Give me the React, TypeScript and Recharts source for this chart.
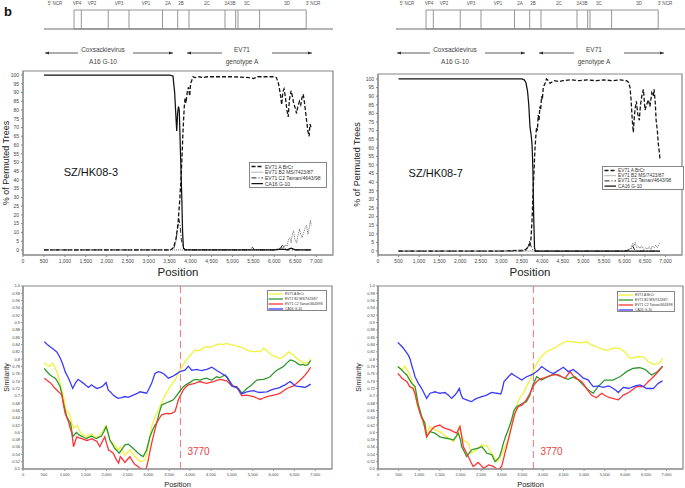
import React from 'react';
import {
  LineChart, Line, XAxis, YAxis, ReferenceArea, ReferenceLine, ReferenceDot,
  Legend, Label, ComposedChart, Scatter,
} from 'recharts';

const FONT = '"Liberation Sans", Arial, Helvetica, sans-serif';

// ---------- tick values ----------
const POS_TICKS = [0, 500, 1000, 1500, 2000, 2500, 3000, 3500, 4000, 4500, 5000, 5500, 6000, 6500, 7000];
const PCT_TICKS = [0, 5, 10, 15, 20, 25, 30, 35, 40, 45, 50, 55, 60, 65, 70, 75, 80, 85, 90, 95, 100];
const SIM_TICKS = [0.5, 0.52, 0.54, 0.56, 0.58, 0.6, 0.62, 0.64, 0.66, 0.68, 0.7, 0.72, 0.74, 0.76, 0.78, 0.8, 0.82, 0.84, 0.86, 0.88, 0.9, 0.92, 0.94, 0.96, 0.98, 1.0];

// ---------- series names ----------
const BOOT_NAMES = ['EV71 A  BrCr', 'EV71 B2 MS/7423/87', 'EV71 C2 Tainan/4643/98', 'CA16 G-10'];
const SIM_NAMES = ['EV71 A BrCr', 'EV71 B2 MS/7423/87', 'EV71 C2 Tainan/4643/98', 'CA16 G-10'];

// ---------- genome map ----------
const GENE_BOUNDS = [743, 950, 1712, 2300, 3250, 3680, 4000, 5020, 5322, 5388, 6000, 7320];
const GENE_LABELS = [
  { x: 207, name: "5' NCR" }, { x: 827, name: 'VP4' }, { x: 1252, name: 'VP2' },
  { x: 2017, name: 'VP3' }, { x: 2782, name: 'VP1' }, { x: 3405, name: '2A' },
  { x: 3773, name: '2B' }, { x: 4510, name: '2C' }, { x: 5161, name: '3A3B' },
  { x: 5643, name: '3C' }, { x: 6776, name: '3D' }, { x: 7513, name: "3' NCR" },
];
const ARROW_LEFT = { from: -79, to: 855, from2: 2414, to2: 3547, mid: 1564, line1: 'Coxsackievirus', line2: 'A16 G-10' };
const ARROW_RIGHT = { from: 3944, to: 4935, from2: 6351, to2: 7484, mid: 5501, line1: 'EV71', line2: 'genotype A' };

// ---------- bootscan, SZ/HK08-3 ----------
const bootL_A: [number, number][] = [[500,0],[1000,0],[1500,0],[2000,0],[2500,0],[3000,0],[3500,0],[3560,0.5],[3600,2],[3650,6],[3700,15],[3740,28],[3770,40],[3790,50],[3820,68],[3850,82],[3870,87],[3890,84],[3920,90],[3950,93],[3980,88],[4000,95],[4030,97],[4060,99],[4100,98.5],[4200,99],[4300,98.5],[4400,99],[4600,99],[4800,99],[5000,99],[5200,98.8],[5400,98.5],[5500,98],[5600,99],[5800,99],[6000,99],[6050,98.5],[6100,95],[6150,88],[6175,83],[6200,90],[6230,92],[6260,88],[6300,80],[6330,76],[6360,86],[6400,91],[6430,88],[6460,84],[6500,81],[6530,78],[6560,82],[6600,85],[6630,83],[6660,87],[6690,89],[6720,84],[6760,76],[6800,68],[6830,65],[6850,72],[6880,70]];
const bootL_B2: [number, number][] = [[500,0],[3500,0],[4000,0],[5500,0],[6000,0],[6100,0.5],[6180,2],[6220,1],[6260,3],[6300,2],[6340,6],[6370,7],[6400,4],[6430,9],[6460,11],[6490,6],[6530,4],[6560,8],[6600,12],[6630,9],[6660,7],[6700,10],[6740,13],[6770,14],[6800,9],[6830,12],[6860,17],[6880,14]];
const bootL_C2: [number, number][] = [[500,0],[3500,0],[3600,1],[3650,5],[3690,12],[3720,18],[3750,14],[3780,6],[3820,2],[3860,0],[5400,0],[5480,1.5],[5520,0],[6000,0],[6150,1],[6200,3],[6250,1],[6300,0],[6880,0]];
const bootL_CA16: [number, number][] = [[500,100],[1000,100],[1500,100],[2000,100],[2500,100],[3000,100],[3500,100],[3580,99.5],[3620,90],[3660,72],[3670,68],[3690,78],[3710,82],[3730,80],[3760,55],[3790,30],[3810,10],[3830,1],[3870,0],[4500,0],[5000,0],[5500,0],[6000,0],[6200,0.5],[6300,0],[6400,1],[6500,0],[6880,0]];

// ---------- bootscan, SZ/HK08-7 ----------
const bootR_A: [number, number][] = [[500,0],[1000,0],[1500,0],[2000,0],[2500,0],[3000,0],[3500,0.5],[3600,1],[3680,3],[3720,6],[3750,18],[3775,34],[3800,48],[3820,59],[3840,66],[3860,72],[3880,70],[3900,79],[3920,76],[3940,84],[3960,82],[3980,90],[4000,88],[4025,95.5],[4060,97],[4100,100],[4150,99],[4190,97.5],[4250,98.5],[4300,99],[4400,98.5],[4500,99],[4700,99.5],[4900,99],[5100,99.5],[5300,99],[5500,99.5],[5700,99],[5900,99.5],[6050,99],[6100,98],[6135,95],[6160,88],[6190,76],[6215,69],[6240,78],[6260,83],[6290,87],[6320,80],[6360,76],[6390,85],[6420,90],[6460,94],[6500,82],[6540,85],[6580,88],[6620,84],[6665,92],[6700,90],[6720,94],[6750,86],[6770,76],[6800,70],[6825,62],[6850,57],[6865,53]];
const bootR_B2: [number, number][] = [[500,0],[3500,0],[4000,0],[6000,0],[6100,0.5],[6160,2],[6200,4.5],[6230,3],[6260,5],[6300,2],[6330,3],[6380,1.5],[6420,3],[6470,1],[6520,2],[6560,1],[6600,2.5],[6640,1],[6680,3],[6720,2],[6760,3.5],[6800,2],[6840,4],[6865,5]];
const bootR_C2: [number, number][] = [[500,0],[3500,0],[3620,0.5],[3660,3],[3690,6],[3720,3],[3760,1],[3800,0],[6000,0],[6150,1],[6200,3],[6240,1],[6300,0],[6865,0]];
const bootR_CA16: [number, number][] = [[500,100],[1000,100],[1500,100],[2000,100],[2500,100],[3000,100],[3500,100],[3560,99.5],[3600,98],[3640,93],[3670,85],[3700,72],[3730,67],[3750,62],[3770,48],[3790,20],[3810,2],[3830,0],[4500,0],[5000,0],[5500,0],[6000,0],[6865,0]];

// ---------- similarity, SZ/HK08-3 ----------
const simL_A: [number, number][] = [[510,0.79],[580,0.783],[650,0.781],[710,0.789],[760,0.778],[810,0.766],[850,0.752],[890,0.734],[930,0.715],[970,0.698],[1030,0.661],[1110,0.652],[1170,0.625],[1210,0.612],[1250,0.616],[1300,0.618],[1350,0.605],[1400,0.596],[1460,0.592],[1520,0.588],[1580,0.593],[1640,0.596],[1700,0.59],[1760,0.584],[1820,0.59],[1880,0.598],[1940,0.61],[1990,0.618],[2040,0.593],[2100,0.575],[2160,0.57],[2220,0.562],[2280,0.552],[2330,0.561],[2390,0.548],[2440,0.538],[2500,0.545],[2560,0.552],[2620,0.543],[2680,0.534],[2740,0.528],[2800,0.52],[2860,0.522],[2920,0.525],[2960,0.54],[3000,0.561],[3040,0.59],[3080,0.616],[3160,0.643],[3220,0.655],[3280,0.67],[3340,0.685],[3400,0.702],[3460,0.712],[3520,0.725],[3580,0.734],[3640,0.743],[3700,0.757],[3760,0.77],[3820,0.782],[3880,0.793],[3940,0.802],[4000,0.811],[4060,0.818],[4120,0.825],[4180,0.823],[4240,0.825],[4320,0.831],[4400,0.834],[4480,0.832],[4560,0.836],[4640,0.84],[4720,0.842],[4800,0.84],[4880,0.843],[4960,0.84],[5040,0.839],[5120,0.836],[5200,0.834],[5280,0.83],[5360,0.825],[5440,0.822],[5520,0.82],[5600,0.822],[5680,0.82],[5760,0.83],[5820,0.825],[5880,0.818],[5940,0.812],[6000,0.809],[6080,0.805],[6160,0.802],[6220,0.806],[6280,0.811],[6360,0.82],[6420,0.816],[6480,0.811],[6540,0.804],[6600,0.798],[6660,0.794],[6720,0.789],[6780,0.791],[6840,0.79],[6890,0.802]];
const simL_B2: [number, number][] = [[510,0.775],[580,0.765],[650,0.757],[710,0.752],[770,0.748],[830,0.738],[890,0.725],[930,0.705],[970,0.68],[1010,0.66],[1050,0.643],[1100,0.632],[1140,0.625],[1190,0.588],[1240,0.595],[1280,0.6],[1340,0.593],[1400,0.59],[1460,0.586],[1520,0.583],[1580,0.587],[1640,0.59],[1700,0.586],[1760,0.583],[1820,0.587],[1880,0.59],[1940,0.603],[1990,0.616],[2040,0.598],[2080,0.579],[2140,0.568],[2200,0.556],[2250,0.55],[2300,0.543],[2360,0.552],[2440,0.566],[2520,0.568],[2580,0.562],[2640,0.556],[2700,0.55],[2760,0.543],[2820,0.538],[2880,0.534],[2960,0.552],[3040,0.588],[3100,0.605],[3160,0.62],[3200,0.625],[3260,0.652],[3320,0.675],[3380,0.678],[3440,0.681],[3520,0.685],[3600,0.689],[3660,0.698],[3720,0.707],[3780,0.716],[3840,0.725],[3900,0.73],[3960,0.734],[4020,0.738],[4080,0.743],[4160,0.745],[4240,0.743],[4320,0.746],[4400,0.748],[4460,0.745],[4520,0.743],[4580,0.748],[4640,0.752],[4700,0.75],[4760,0.752],[4840,0.757],[4900,0.748],[4960,0.739],[5040,0.725],[5100,0.722],[5160,0.72],[5240,0.707],[5300,0.713],[5360,0.72],[5420,0.725],[5480,0.73],[5540,0.737],[5600,0.743],[5680,0.744],[5760,0.745],[5840,0.748],[5920,0.752],[6000,0.762],[6080,0.77],[6160,0.775],[6240,0.78],[6320,0.79],[6400,0.798],[6460,0.796],[6520,0.793],[6580,0.788],[6640,0.784],[6700,0.786],[6760,0.783],[6820,0.785],[6890,0.796]];
const simL_C2: [number, number][] = [[510,0.748],[580,0.742],[650,0.736],[700,0.73],[730,0.725],[790,0.718],[850,0.711],[900,0.706],[930,0.702],[970,0.675],[1010,0.652],[1050,0.64],[1090,0.629],[1130,0.612],[1170,0.598],[1210,0.561],[1250,0.575],[1290,0.588],[1350,0.585],[1410,0.583],[1470,0.58],[1530,0.578],[1590,0.58],[1650,0.583],[1710,0.579],[1770,0.575],[1840,0.561],[1900,0.575],[1960,0.588],[2000,0.57],[2050,0.552],[2110,0.548],[2160,0.543],[2240,0.525],[2290,0.516],[2330,0.534],[2390,0.526],[2440,0.518],[2500,0.526],[2560,0.534],[2620,0.522],[2680,0.512],[2740,0.508],[2800,0.502],[2860,0.5],[2920,0.496],[2960,0.505],[3000,0.525],[3040,0.548],[3080,0.57],[3140,0.598],[3200,0.625],[3260,0.638],[3320,0.648],[3380,0.65],[3440,0.652],[3500,0.651],[3560,0.652],[3640,0.657],[3680,0.672],[3720,0.689],[3780,0.703],[3840,0.716],[3900,0.724],[3960,0.73],[4040,0.732],[4120,0.734],[4180,0.737],[4240,0.739],[4320,0.736],[4400,0.734],[4480,0.737],[4560,0.739],[4640,0.742],[4720,0.745],[4800,0.743],[4880,0.741],[4940,0.734],[5000,0.727],[5060,0.726],[5120,0.725],[5180,0.712],[5240,0.7],[5300,0.701],[5360,0.702],[5440,0.7],[5520,0.698],[5600,0.694],[5680,0.69],[5760,0.694],[5840,0.698],[5920,0.7],[6000,0.702],[6080,0.704],[6160,0.707],[6240,0.714],[6320,0.72],[6400,0.724],[6480,0.727],[6560,0.735],[6640,0.743],[6700,0.75],[6760,0.757],[6820,0.766],[6890,0.778]];
const simL_CA16: [number, number][] = [[510,0.848],[580,0.84],[650,0.834],[730,0.827],[810,0.82],[870,0.808],[930,0.793],[970,0.78],[1010,0.766],[1050,0.757],[1090,0.748],[1140,0.734],[1190,0.72],[1250,0.734],[1320,0.745],[1380,0.74],[1450,0.734],[1510,0.728],[1570,0.723],[1640,0.73],[1700,0.725],[1770,0.72],[1830,0.722],[1890,0.725],[1940,0.73],[1990,0.736],[2040,0.716],[2100,0.71],[2160,0.702],[2220,0.697],[2280,0.693],[2360,0.695],[2440,0.698],[2520,0.696],[2600,0.7],[2680,0.704],[2760,0.708],[2800,0.711],[2880,0.709],[2960,0.707],[3020,0.72],[3080,0.734],[3160,0.761],[3240,0.766],[3300,0.764],[3360,0.761],[3420,0.755],[3480,0.748],[3540,0.751],[3600,0.754],[3680,0.76],[3760,0.766],[3820,0.768],[3880,0.77],[3960,0.781],[4040,0.77],[4100,0.771],[4160,0.772],[4220,0.77],[4280,0.769],[4340,0.771],[4400,0.772],[4460,0.775],[4520,0.778],[4580,0.774],[4640,0.769],[4700,0.765],[4760,0.761],[4820,0.756],[4880,0.752],[4940,0.74],[5000,0.727],[5060,0.725],[5120,0.723],[5180,0.714],[5240,0.705],[5300,0.708],[5360,0.711],[5440,0.713],[5520,0.714],[5600,0.711],[5680,0.709],[5760,0.71],[5840,0.711],[5920,0.715],[6000,0.718],[6080,0.72],[6160,0.723],[6220,0.727],[6280,0.73],[6340,0.735],[6400,0.739],[6460,0.733],[6520,0.727],[6580,0.726],[6640,0.725],[6700,0.724],[6760,0.723],[6820,0.727],[6890,0.732]];

// ---------- similarity, SZ/HK08-7 ----------
const simR_A: [number, number][] = [[480,0.778],[530,0.775],[580,0.772],[650,0.781],[710,0.77],[760,0.761],[810,0.745],[860,0.725],[910,0.7],[960,0.67],[1020,0.657],[1060,0.64],[1100,0.625],[1140,0.61],[1180,0.593],[1220,0.605],[1260,0.616],[1320,0.612],[1380,0.607],[1440,0.604],[1500,0.602],[1580,0.595],[1660,0.588],[1740,0.582],[1830,0.575],[1900,0.59],[1970,0.616],[2020,0.595],[2070,0.579],[2130,0.575],[2190,0.57],[2230,0.556],[2270,0.543],[2330,0.548],[2390,0.552],[2450,0.56],[2520,0.566],[2580,0.563],[2640,0.563],[2700,0.553],[2760,0.543],[2820,0.532],[2880,0.52],[2930,0.526],[2980,0.534],[3030,0.548],[3080,0.561],[3160,0.579],[3240,0.616],[3320,0.652],[3400,0.685],[3470,0.7],[3530,0.707],[3600,0.725],[3690,0.743],[3750,0.762],[3810,0.78],[3870,0.792],[3930,0.802],[4010,0.812],[4090,0.82],[4170,0.825],[4250,0.829],[4330,0.834],[4410,0.84],[4490,0.845],[4580,0.849],[4660,0.848],[4740,0.847],[4820,0.846],[4900,0.845],[4980,0.846],[5060,0.847],[5140,0.842],[5220,0.838],[5300,0.834],[5380,0.83],[5460,0.827],[5550,0.824],[5630,0.827],[5710,0.83],[5790,0.83],[5870,0.829],[5930,0.824],[5990,0.82],[6050,0.811],[6110,0.803],[6190,0.804],[6270,0.806],[6350,0.807],[6440,0.806],[6500,0.8],[6560,0.793],[6620,0.79],[6680,0.786],[6740,0.787],[6800,0.788],[6860,0.794],[6906,0.802]];
const simR_B2: [number, number][] = [[480,0.78],[530,0.775],[580,0.77],[640,0.763],[700,0.757],[760,0.745],[820,0.734],[900,0.725],[940,0.7],[980,0.675],[1020,0.66],[1060,0.643],[1100,0.634],[1140,0.625],[1180,0.588],[1220,0.595],[1260,0.602],[1320,0.6],[1380,0.598],[1440,0.593],[1500,0.588],[1580,0.586],[1660,0.584],[1740,0.582],[1830,0.579],[1890,0.588],[1950,0.598],[2000,0.58],[2030,0.561],[2090,0.548],[2150,0.534],[2210,0.543],[2270,0.552],[2330,0.554],[2390,0.556],[2450,0.558],[2520,0.561],[2580,0.552],[2640,0.543],[2700,0.541],[2760,0.539],[2840,0.52],[2900,0.527],[2950,0.534],[3000,0.552],[3040,0.57],[3100,0.59],[3160,0.607],[3240,0.634],[3300,0.66],[3360,0.67],[3440,0.675],[3520,0.68],[3600,0.684],[3680,0.7],[3760,0.73],[3850,0.752],[3910,0.748],[3970,0.743],[4050,0.748],[4130,0.752],[4210,0.756],[4290,0.76],[4370,0.756],[4450,0.752],[4530,0.748],[4610,0.745],[4690,0.749],[4780,0.752],[4860,0.743],[4940,0.734],[5000,0.727],[5060,0.72],[5140,0.713],[5220,0.707],[5280,0.716],[5340,0.725],[5420,0.734],[5500,0.743],[5600,0.743],[5700,0.743],[5790,0.748],[5870,0.752],[5950,0.759],[6030,0.766],[6110,0.771],[6190,0.775],[6270,0.776],[6350,0.777],[6430,0.774],[6510,0.77],[6570,0.763],[6640,0.757],[6700,0.761],[6760,0.764],[6830,0.772],[6906,0.781]];
const simR_C2: [number, number][] = [[480,0.761],[530,0.755],[580,0.748],[640,0.743],[700,0.739],[770,0.725],[850,0.72],[900,0.705],[950,0.68],[1020,0.652],[1060,0.64],[1100,0.63],[1140,0.61],[1180,0.588],[1220,0.595],[1260,0.602],[1320,0.61],[1380,0.616],[1440,0.618],[1500,0.62],[1560,0.615],[1630,0.611],[1690,0.609],[1750,0.607],[1830,0.602],[1910,0.598],[1950,0.607],[1990,0.616],[2030,0.59],[2070,0.561],[2130,0.548],[2190,0.534],[2250,0.52],[2310,0.507],[2370,0.512],[2430,0.518],[2500,0.51],[2560,0.502],[2620,0.506],[2680,0.511],[2740,0.509],[2800,0.507],[2860,0.502],[2920,0.498],[2960,0.502],[3000,0.507],[3040,0.525],[3080,0.543],[3160,0.579],[3240,0.616],[3320,0.652],[3400,0.67],[3500,0.675],[3600,0.689],[3680,0.705],[3760,0.725],[3820,0.735],[3890,0.743],[3970,0.747],[4050,0.75],[4130,0.753],[4210,0.757],[4290,0.757],[4380,0.757],[4460,0.752],[4540,0.748],[4600,0.757],[4660,0.766],[4720,0.757],[4780,0.748],[4860,0.744],[4940,0.739],[5000,0.73],[5060,0.72],[5120,0.711],[5180,0.702],[5240,0.698],[5300,0.695],[5360,0.701],[5430,0.707],[5490,0.702],[5550,0.698],[5620,0.695],[5700,0.693],[5760,0.691],[5830,0.689],[5890,0.695],[5950,0.702],[6030,0.706],[6110,0.711],[6190,0.718],[6270,0.725],[6350,0.725],[6440,0.725],[6500,0.732],[6560,0.739],[6620,0.745],[6680,0.752],[6740,0.759],[6800,0.766],[6860,0.774],[6906,0.781]];
const simR_CA16: [number, number][] = [[480,0.846],[550,0.838],[615,0.83],[680,0.82],[736,0.811],[780,0.8],[817,0.784],[860,0.768],[898,0.752],[940,0.743],[978,0.734],[1020,0.727],[1059,0.72],[1100,0.711],[1140,0.702],[1181,0.693],[1220,0.7],[1262,0.707],[1320,0.709],[1383,0.711],[1440,0.709],[1504,0.707],[1560,0.708],[1626,0.709],[1670,0.705],[1706,0.702],[1750,0.697],[1787,0.693],[1830,0.698],[1868,0.702],[1920,0.71],[1973,0.72],[2010,0.705],[2054,0.693],[2100,0.691],[2152,0.689],[2210,0.686],[2273,0.684],[2330,0.689],[2394,0.693],[2450,0.695],[2516,0.698],[2580,0.7],[2637,0.702],[2700,0.706],[2758,0.709],[2820,0.708],[2880,0.707],[2940,0.706],[2980,0.705],[3020,0.72],[3057,0.739],[3110,0.745],[3162,0.752],[3243,0.761],[3300,0.756],[3364,0.752],[3420,0.748],[3485,0.743],[3550,0.748],[3607,0.752],[3690,0.756],[3768,0.76],[3830,0.765],[3889,0.77],[3930,0.775],[3970,0.78],[4030,0.775],[4091,0.77],[4170,0.765],[4253,0.761],[4330,0.766],[4415,0.772],[4496,0.778],[4560,0.772],[4617,0.766],[4680,0.769],[4738,0.772],[4800,0.766],[4860,0.761],[4920,0.755],[4981,0.748],[5040,0.746],[5102,0.743],[5160,0.734],[5223,0.725],[5280,0.726],[5345,0.727],[5400,0.725],[5466,0.723],[5530,0.725],[5587,0.727],[5650,0.724],[5708,0.72],[5770,0.715],[5830,0.709],[5890,0.716],[5951,0.723],[6010,0.722],[6072,0.72],[6130,0.722],[6193,0.725],[6270,0.728],[6356,0.73],[6440,0.725],[6518,0.72],[6600,0.72],[6679,0.72],[6740,0.727],[6800,0.734],[6860,0.738],[6906,0.741]];

const RECOMB_POINT = 3770;

// ---------- styles ----------
const BOOT_STYLES = [
  { stroke: '#151515', width: 1.3, dash: '4 2' },
  { stroke: '#6a6a6a', width: 1, dash: '1 1' },
  { stroke: '#222222', width: 1, dash: '5 2 1 2' },
  { stroke: '#111111', width: 1.25, dash: undefined as string | undefined },
];
const SIM_STYLES = [
  { stroke: '#f2f23a', width: 1.3, dash: undefined as string | undefined },
  { stroke: '#2e982e', width: 1.3, dash: undefined as string | undefined },
  { stroke: '#fb3535', width: 1.3, dash: undefined as string | undefined },
  { stroke: '#3b3bfb', width: 1.3, dash: undefined as string | undefined },
];

const toData = (pts: [number, number][]) => pts.map(([x, y]) => ({ x, y }));
const fmtPos = (v: number) => v.toLocaleString('en-US');
const fmtSim = (v: number) => v.toFixed(2).replace(/0$/, '');

type LegendCfg = { left: number; top: number; w: number; h: number; y0: number; dy: number; lx1: number; lx2: number; tx: number; fs: number };

const makeLegend = (names: string[], styles: typeof BOOT_STYLES, c: LegendCfg) => () => (
  <svg width={c.w} height={c.h} style={{ display: 'block', overflow: 'visible' }}>
    <rect x={0.5} y={0.5} width={c.w - 1} height={c.h - 1} fill="#fff" stroke="#7a7a7a" strokeWidth={0.9} />
    {names.map((n, i) => {
      const y = c.y0 + i * c.dy;
      const s = styles[i];
      return (
        <g key={n}>
          <line x1={c.lx1} x2={c.lx2} y1={y} y2={y} stroke={s.stroke} strokeWidth={s.width} strokeDasharray={s.dash} />
          <text x={c.tx} y={y} dominantBaseline="central" fontSize={c.fs} fill="#333" fontFamily={FONT}>{n}</text>
        </g>
      );
    })}
  </svg>
);

const bottomTitle = (text: string, fs: number, dy: number) => (p: any) => {
  const vb = p && p.viewBox;
  if (!vb) return null;
  return (
    <text x={vb.x + vb.width / 2} y={vb.y + dy} textAnchor="middle" fontSize={fs} fill="#222" fontFamily={FONT}>{text}</text>
  );
};
const leftTitle = (text: string, fs: number, cxOff: number) => (p: any) => {
  const vb = p && p.viewBox;
  if (!vb) return null;
  const cx = vb.x + cxOff;
  const cy = vb.y + vb.height / 2;
  return (
    <text x={cx} y={cy} transform={`rotate(-90 ${cx} ${cy})`} textAnchor="middle" dominantBaseline="central" fontSize={fs} fill="#222" fontFamily={FONT}>{text}</text>
  );
};

// ---------- genome map ----------
function GenomeMap({ left }: { left: number }) {
  const labelData = GENE_LABELS.map((g) => ({ x: g.x, y: 3.5, name: g.name }));
  const arrows = [ARROW_LEFT, ARROW_RIGHT];
  const captions = arrows.flatMap((a) => [
    { x: a.mid, y: 49.5, name: a.line1 },
    { x: a.mid, y: 61, name: a.line2 },
  ]);
  const AY = 53;
  const headL = (p: any) => <polygon points={`${p.cx},${p.cy} ${p.cx + 4},${p.cy - 1.6} ${p.cx + 4},${p.cy + 1.6}`} fill="#333" />;
  const headR = (p: any) => <polygon points={`${p.cx},${p.cy} ${p.cx - 4},${p.cy - 1.6} ${p.cx - 4},${p.cy + 1.6}`} fill="#333" />;
  const textShape = (fs: number, color: string) => (p: any) => (
    <text x={p.cx} y={p.cy} textAnchor="middle" dominantBaseline="central" fontSize={fs} fill={color} fontFamily={FONT}>{p.payload.name}</text>
  );
  return (
    <div style={{ position: 'absolute', left, top: 0 }}>
      <ComposedChart width={342} height={70} margin={{ top: 0, right: 9, bottom: 0, left: 44 }}>
        <XAxis type="number" dataKey="x" domain={[-108, 8080]} hide allowDataOverflow />
        <YAxis type="number" dataKey="y" domain={[0, 70]} reversed hide allowDataOverflow />
        <ReferenceLine y={29} stroke="#6f6f6f" strokeWidth={1} />
        <ReferenceArea x1={GENE_BOUNDS[0]} x2={GENE_BOUNDS[GENE_BOUNDS.length - 1]} y1={10} y2={29} fill="#fff" fillOpacity={1} stroke="#8a8a8a" strokeWidth={0.9} />
        {GENE_BOUNDS.slice(1, -1).map((b) => (
          <ReferenceLine key={b} segment={[{ x: b, y: 10 }, { x: b, y: 29 }]} stroke="#8a8a8a" strokeWidth={0.9} />
        ))}
        {arrows.map((a, i) => (
          <ReferenceLine key={'a1' + i} segment={[{ x: a.from, y: AY }, { x: a.to, y: AY }]} stroke="#333" strokeWidth={0.8} />
        ))}
        {arrows.map((a, i) => (
          <ReferenceLine key={'a2' + i} segment={[{ x: a.from2, y: AY }, { x: a.to2, y: AY }]} stroke="#333" strokeWidth={0.8} />
        ))}
        {arrows.map((a, i) => (
          <ReferenceDot key={'h1' + i} x={a.from} y={AY} r={2} shape={headL} ifOverflow="visible" />
        ))}
        {arrows.map((a, i) => (
          <ReferenceDot key={'h2' + i} x={a.to2} y={AY} r={2} shape={headR} ifOverflow="visible" />
        ))}
        <Scatter data={labelData} dataKey="y" shape={textShape(4.6, '#555')} isAnimationActive={false} />
        <Scatter data={captions} dataKey="y" shape={textShape(6.5, '#444')} isAnimationActive={false} />
      </ComposedChart>
    </div>
  );
}

// ---------- bootscan chart ----------
type BootProps = {
  left: number; width: number; right: number; top: number; yWidth: number;
  yDomain: [number, number]; series: [number, number][][]; title: string;
  titleAt: [number, number]; legend: LegendCfg; yTitleX: number;
};
function BootChart(p: BootProps) {
  return (
    <div style={{ position: 'absolute', left: p.left, top: 60 }}>
      <LineChart width={p.width} height={220} margin={{ top: p.top, right: p.right, bottom: 0, left: 0 }}>
        <XAxis type="number" dataKey="x" domain={[0, 7400]} ticks={POS_TICKS} interval={0} tickFormatter={fmtPos}
          allowDataOverflow height={25} tickSize={2} tickMargin={2}
          tick={{ fontSize: 5, fill: '#444', fontFamily: FONT }} tickLine={{ stroke: '#888' }} axisLine={{ stroke: '#888' }}>
          <Label content={bottomTitle('Position', 11.5, 21)} />
        </XAxis>
        <YAxis type="number" domain={p.yDomain} ticks={PCT_TICKS} interval={0} width={p.yWidth} allowDataOverflow
          tickSize={2} tickMargin={2} tick={{ fontSize: 5, fill: '#444', fontFamily: FONT }}
          tickLine={{ stroke: '#888' }} axisLine={{ stroke: '#888' }}>
          <Label content={leftTitle('% of Permuted Trees', 9, p.yTitleX)} />
        </YAxis>
        <ReferenceArea x1={0} x2={7400} y1={p.yDomain[0]} y2={p.yDomain[1]} fill="none" stroke="#858585" strokeWidth={1.2} ifOverflow="visible" />
        {p.series.map((pts, i) => (
          <Line key={i} data={toData(pts)} dataKey="y" name={BOOT_NAMES[i]} type="linear" dot={false} activeDot={false}
            stroke={BOOT_STYLES[i].stroke} strokeWidth={BOOT_STYLES[i].width} strokeDasharray={BOOT_STYLES[i].dash}
            isAnimationActive={false} />
        ))}
        <ReferenceDot x={p.titleAt[0]} y={p.titleAt[1]} r={0} fill="none" stroke="none" ifOverflow="visible"
          label={{ value: p.title, position: 'center', fontSize: 11, fill: '#111', fontFamily: FONT }} />
        <Legend layout="vertical" align="center" verticalAlign="middle"
          wrapperStyle={{ left: p.legend.left, top: p.legend.top, width: p.legend.w, height: p.legend.h }}
          content={makeLegend(BOOT_NAMES, BOOT_STYLES, p.legend)} />
      </LineChart>
    </div>
  );
}

// ---------- similarity chart ----------
type SimProps = {
  left: number; width: number; right: number; yWidth: number;
  series: [number, number][][]; legend: LegendCfg; yTitleX: number;
};
function SimChart(p: SimProps) {
  return (
    <div style={{ position: 'absolute', left: p.left, top: 280 }}>
      <LineChart width={p.width} height={208} margin={{ top: 6, right: p.right, bottom: 0, left: 0 }}>
        <XAxis type="number" dataKey="x" domain={[0, 7400]} ticks={POS_TICKS} interval={0} tickFormatter={fmtPos}
          allowDataOverflow height={19} tickSize={2} tickMargin={2}
          tick={{ fontSize: 4, fill: '#444', fontFamily: FONT }} tickLine={{ stroke: '#999' }} axisLine={{ stroke: '#888' }}>
          <Label content={bottomTitle('Position', 7.5, 17.5)} />
        </XAxis>
        <YAxis type="number" domain={[0.5, 1.0]} ticks={SIM_TICKS} interval={0} tickFormatter={fmtSim} width={p.yWidth}
          allowDataOverflow tickSize={2} tickMargin={1} tick={{ fontSize: 4, fill: '#444', fontFamily: FONT }}
          tickLine={{ stroke: '#999' }} axisLine={{ stroke: '#888' }}>
          <Label content={leftTitle('Similarity', 7, p.yTitleX)} />
        </YAxis>
        <ReferenceArea x1={0} x2={7400} y1={0.5} y2={1.0} fill="none" stroke="#858585" strokeWidth={1.2} ifOverflow="visible" />
        <ReferenceLine x={RECOMB_POINT} stroke="#f07676" strokeWidth={1} strokeDasharray="7 4" />
        {p.series.map((pts, i) => (
          <Line key={i} data={toData(pts)} dataKey="y" name={SIM_NAMES[i]} type="linear" dot={false} activeDot={false}
            stroke={SIM_STYLES[i].stroke} strokeWidth={SIM_STYLES[i].width}
            isAnimationActive={false} />
        ))}
        <ReferenceDot x={RECOMB_POINT} y={0.549} r={0} fill="none" stroke="none" ifOverflow="visible"
          label={{ value: String(RECOMB_POINT), position: 'right', offset: 7, fontSize: 10, fill: '#e8423f', fontFamily: FONT }} />
        <Legend layout="vertical" align="center" verticalAlign="middle"
          wrapperStyle={{ left: p.legend.left, top: p.legend.top, width: p.legend.w, height: p.legend.h }}
          content={makeLegend(SIM_NAMES, SIM_STYLES, p.legend)} />
      </LineChart>
    </div>
  );
}

export default function App() {
  return (
    <div style={{ position: 'absolute', left: 0, top: 0, width: 685, height: 488, overflow: 'hidden', background: '#fff', fontFamily: FONT }}>
      <div style={{ position: 'absolute', left: 4, top: 5, fontSize: 13, fontWeight: 'bold', color: '#111', fontFamily: FONT, lineHeight: '14px' }}>b</div>
      <GenomeMap left={0} />
      <GenomeMap left={352} />
      <BootChart left={0} width={342} right={9} top={11} yWidth={23} yDomain={[-2.9, 102.3]}
        series={[bootL_A, bootL_B2, bootL_C2, bootL_CA16]} title="SZ/HK08-3" titleAt={[1620, 44.6]} yTitleX={6}
        legend={{ left: 249, top: 102, w: 78, h: 26, y0: 4.5, dy: 5.7, lx1: 2.5, lx2: 14, tx: 16, fs: 5 }} />
      <BootChart left={342} width={343} right={3} top={14} yWidth={36} yDomain={[-2.3, 102.9]}
        series={[bootR_A, bootR_B2, bootR_C2, bootR_CA16]} title="SZ/HK08-7" titleAt={[1407, 45.3]} yTitleX={15}
        legend={{ left: 260, top: 106, w: 82, h: 24, y0: 4.5, dy: 5.2, lx1: 2.5, lx2: 14, tx: 16, fs: 4.8 }} />
      <SimChart left={0} width={342} right={10} yWidth={23} yTitleX={6}
        series={[simL_A, simL_B2, simL_C2, simL_CA16]}
        legend={{ left: 267, top: 10, w: 60, h: 21, y0: 4, dy: 5, lx1: 1.5, lx2: 16, tx: 18, fs: 3.4 }} />
      <SimChart left={342} width={343} right={2} yWidth={36} yTitleX={16}
        series={[simR_A, simR_B2, simR_C2, simR_CA16]}
        legend={{ left: 275, top: 11, w: 58, h: 21, y0: 4, dy: 5, lx1: 1.5, lx2: 16, tx: 18, fs: 3.4 }} />
    </div>
  );
}
